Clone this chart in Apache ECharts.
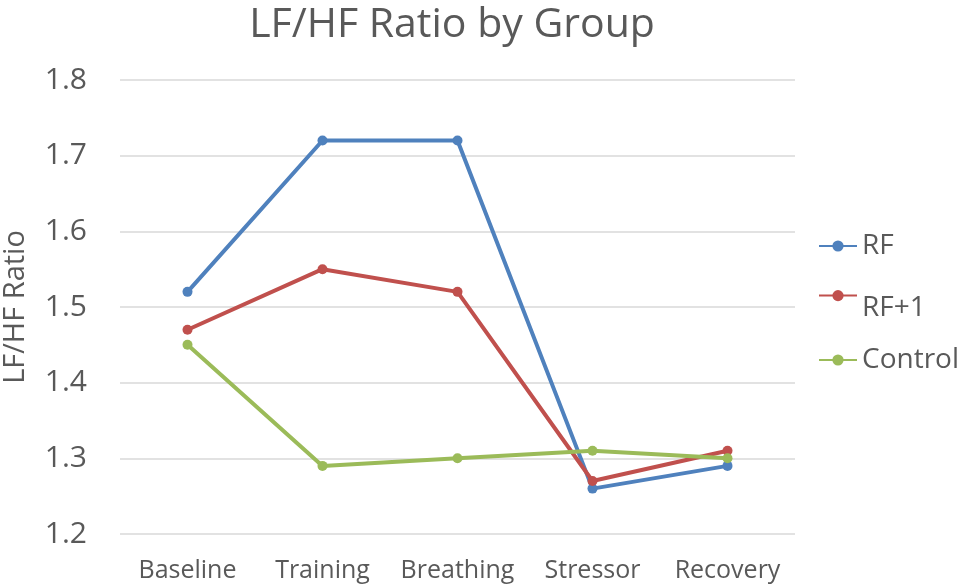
<!DOCTYPE html>
<html><head><meta charset="utf-8">
<script src="https://cdn.jsdelivr.net/npm/echarts@6/dist/echarts.min.js"></script>
<style>html,body{margin:0;padding:0;background:#fff}#c{width:963px;height:585px}</style>
</head><body><div id="c"></div>
<script>
const categories = ['Baseline', 'Training', 'Breathing', 'Stressor', 'Recovery'];
const rf = [1.52, 1.72, 1.72, 1.26, 1.29];
const rf1 = [1.47, 1.55, 1.52, 1.27, 1.31];
const control = [1.45, 1.29, 1.30, 1.31, 1.30];
const yTicks = { min: 1.2, max: 1.8, interval: 0.1 };

const font = "'Open Sans', 'Liberation Sans', sans-serif";
const txt = '#595959';
const chart = echarts.init(document.getElementById('c'));
function leg(name, top, shift) {
  return {
    data: [name], left: 813, top: top, orient: 'vertical',
    itemWidth: 38, itemHeight: 14, itemGap: 0, selectedMode: false,
    formatter: '{a|{name}}',
    textStyle: { fontFamily: font, fontSize: 28, color: txt,
      rich: { a: { fontFamily: font, fontSize: 28, color: txt, padding: [shift || 0, 0, 0, 0] } } }
  };
}
const mk = (name, data, color) => ({
  name, type: 'line', data, symbol: 'circle', symbolSize: 10,
  lineStyle: { width: 4, color }, itemStyle: { color }, animation: false
});
chart.setOption({
  animation: false,
  title: { text: 'LF/HF Ratio by Group', left: 447, top: 0, textAlign: 'center',
    textStyle: { fontFamily: font, fontSize: 41, fontWeight: 'normal', color: txt } },
  legend: [leg('RF', 227), leg('RF+1', 285, 24), leg('Control', 341)],
  grid: { left: 120, right: 168, top: 80, bottom: 51, containLabel: false, outerBoundsMode: 'none' },
  xAxis: { type: 'category', data: categories, boundaryGap: true,
    axisLine: { show: false }, axisTick: { show: false },
    axisLabel: { interval: 0, fontFamily: font, fontSize: 25, color: txt, margin: 24 } },
  yAxis: { type: 'value', min: yTicks.min, max: yTicks.max, interval: yTicks.interval,
    name: 'LF/HF Ratio', nameLocation: 'middle', nameGap: 90,
    nameTextStyle: { fontFamily: font, fontSize: 29, color: txt },
    axisLine: { show: false }, axisTick: { show: false },
    axisLabel: { fontFamily: font, fontSize: 30, color: txt, margin: 33, formatter: v => v.toFixed(1) },
    splitLine: { lineStyle: { color: '#d9d9d9', width: 1.5 } } },
  series: [mk('RF', rf, '#4F81BD'), mk('RF+1', rf1, '#C0504D'), mk('Control', control, '#9BBB59')]
});
</script></body></html>
